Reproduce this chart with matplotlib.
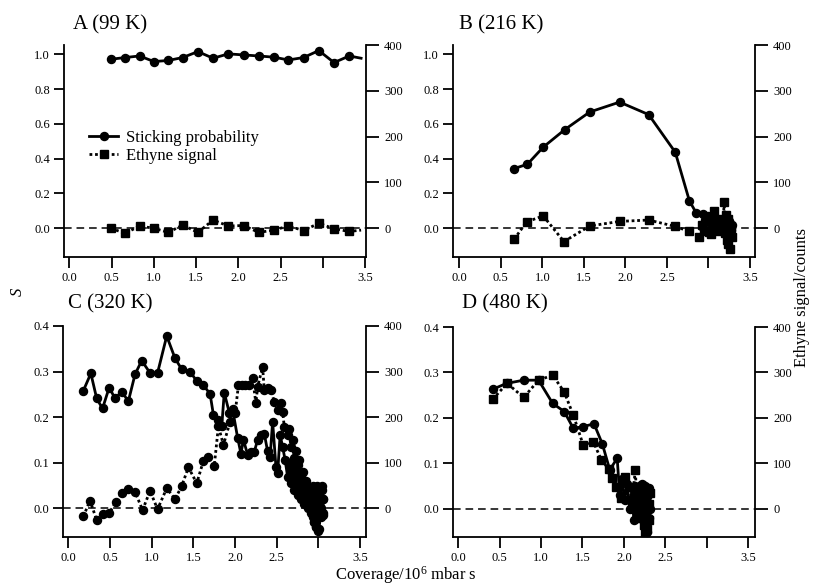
import matplotlib
matplotlib.use("Agg")
import matplotlib.pyplot as plt

plt.rcParams['font.family'] = ['Liberation Serif', 'DejaVu Serif']
plt.rcParams['mathtext.fontset'] = 'custom'
plt.rcParams['mathtext.rm'] = 'Liberation Serif'
plt.rcParams['mathtext.it'] = 'Liberation Serif:italic'

# ---------------- data ----------------
panel_titles = ["A (99 K)", "B (216 K)", "C (320 K)", "D (480 K)"]
x_ticks = [0.0, 0.5, 1.0, 1.5, 2.0, 2.5, 3.0, 3.5]
x_ticklabels = ["0.0", "0.5", "1.0", "1.5", "2.0", "2.5", "", "3.5"]
right_ticks = [0, 100, 200, 300, 400]
left_ticks_top = [0.0, 0.2, 0.4, 0.6, 0.8, 1.0]
left_ticks_bottom = [0.0, 0.1, 0.2, 0.3, 0.4]

# Panel A (99 K)
xA = [0.49, 0.66, 0.83, 1.00, 1.17, 1.34, 1.52, 1.70, 1.88, 2.06, 2.24, 2.42,
      2.59, 2.77, 2.95, 3.13, 3.31, 3.45]
sA = [0.971, 0.981, 0.990, 0.958, 0.964, 0.981, 1.015, 0.977, 1.002, 0.996,
      0.990, 0.983, 0.967, 0.981, 1.021, 0.952, 0.990, 0.977]
eA = [0, -11, 5, 0, -9, 7, -9, 18, 5, 6, -9, -4, 5, -5, 11, -1, -7, -4]

# Panel B (216 K)
xB_s = [0.66, 0.82, 1.01, 1.27, 1.57, 1.93, 2.28, 2.60, 2.77, 2.85, 2.93, 2.96,
        2.99, 3.02, 3.05, 3.08, 3.11, 3.14, 3.17, 3.19, 3.21, 3.23, 3.25, 3.27, 3.28]
sB = [0.343, 0.368, 0.466, 0.567, 0.668, 0.725, 0.653, 0.437, 0.158, 0.090,
      0.084, 0.05, 0.07, 0.03, 0.055, 0.02, 0.045, 0.01, 0.05, 0.02, 0.06, 0.0,
      0.04, -0.01, 0.02]
xB_e = [0.66, 0.81, 1.01, 1.26, 1.57, 1.93, 2.28, 2.60, 2.77, 2.89, 2.92, 2.95,
        2.98, 3.01, 3.03, 3.07, 3.09, 3.11, 3.13, 3.15, 3.17, 3.19, 3.20, 3.21,
        3.22, 3.23, 3.24, 3.25, 3.26, 3.27, 3.28]
eB = [-24, 14, 27, -29, 5, 15, 18, 4, -7, -20, 8, -5, 15, -8, -13, 38, 5, 20,
      -5, 15, 0, 57, -10, 30, -25, 20, -35, 10, -46, 0, -20]

# Panel C (320 K)
xC_s = [0.18, 0.27, 0.34, 0.41, 0.49, 0.56, 0.64, 0.72, 0.80, 0.88,
        0.98, 1.07, 1.18, 1.28, 1.36, 1.46, 1.54, 1.62, 1.70, 1.74,
        1.80, 1.84, 1.87, 1.93, 1.97, 2.03, 2.07, 2.10, 2.15, 2.19,
        2.23, 2.27, 2.31, 2.35, 2.39, 2.42, 2.45, 2.49, 2.51, 2.54,
        2.57, 2.60, 2.63, 2.65, 2.67, 2.69, 2.71, 2.73, 2.75, 2.77,
        2.79, 2.81, 2.83, 2.85, 2.87, 2.89, 2.91, 2.92, 2.93, 2.94,
        2.95, 2.96, 2.97, 2.98, 2.99, 3.00, 3.01, 3.02, 3.03, 3.04,
        3.05, 3.06]
sC = [0.258, 0.296, 0.241, 0.219, 0.265, 0.241, 0.256, 0.235, 0.294, 0.324,
      0.297, 0.297, 0.378, 0.329, 0.305, 0.300, 0.279, 0.270, 0.251, 0.205,
      0.194, 0.180, 0.254, 0.210, 0.217, 0.155, 0.120, 0.150, 0.118, 0.124,
      0.124, 0.150, 0.161, 0.164, 0.125, 0.113, 0.190, 0.091, 0.077, 0.161,
      0.135, 0.106, 0.069, 0.10, 0.055, 0.09, 0.04, 0.08, 0.03, 0.065,
      0.02, 0.055, 0.01, 0.05, 0.0, 0.045, -0.01, 0.04, -0.02, 0.05,
      -0.03, 0.035, -0.04, 0.05, -0.045, 0.03, -0.02, 0.045, 0.0, 0.04,
      -0.01, 0.02]
xC_e = [0.18, 0.26, 0.34, 0.41, 0.49, 0.57, 0.64, 0.72, 0.80, 0.89,
        0.98, 1.07, 1.18, 1.28, 1.36, 1.44, 1.54, 1.62, 1.68, 1.75,
        1.80, 1.86, 1.94, 2.00, 2.04, 2.08, 2.12, 2.17, 2.21, 2.25,
        2.27, 2.33, 2.35, 2.40, 2.43, 2.47, 2.51, 2.55, 2.57, 2.59,
        2.63, 2.65, 2.67, 2.69, 2.71, 2.73, 2.75, 2.77, 2.79, 2.81,
        2.83, 2.85, 2.87, 2.89, 2.90, 2.92, 2.93, 2.94, 2.95, 2.96,
        2.97, 2.98, 2.99, 3.00, 3.01, 3.02, 3.03, 3.04, 3.05, 3.06]
eC = [-18, 17, -26, -13, -10, 13, 33, 42, 36, -4,
      38, -2, 44, 20, 49, 90, 55, 104, 113, 93,
      180, 139, 190, 208, 270, 270, 270, 270, 285, 230,
      267, 310, 260, 265, 259, 234, 216, 231, 212, 179,
      161, 175, 135, 150, 110, 125, 95, 105, 70, 80,
      45, 60, 25, 40, 5, 30, -10, 20, -30, 35,
      -40, 15, -50, 5, -45, 25, -20, 50, -15, 20]

# Panel D (480 K)
xD_s = [0.415, 0.585, 0.79, 0.97, 1.14, 1.28, 1.39, 1.51, 1.64, 1.74,
        1.83, 1.92, 1.95, 1.98, 2.01, 2.04, 2.07, 2.10, 2.12, 2.14,
        2.16, 2.18, 2.20, 2.22, 2.24, 2.25, 2.26, 2.27, 2.28, 2.29,
        2.30, 2.31, 2.32]
sD = [0.263, 0.276, 0.283, 0.283, 0.232, 0.214, 0.177, 0.181, 0.187, 0.143,
      0.086, 0.111, 0.030, 0.065, 0.02, 0.055, 0.0, 0.045, -0.024, 0.05,
      0.0, 0.04, -0.01, 0.055, -0.03, 0.05, -0.04, 0.04, -0.05, 0.03,
      -0.02, 0.045, 0.0]
xD_e = [0.415, 0.59, 0.79, 0.97, 1.14, 1.28, 1.39, 1.51, 1.63, 1.73,
        1.82, 1.86, 1.91, 1.96, 2.01, 2.06, 2.10, 2.14, 2.16, 2.18,
        2.20, 2.22, 2.24, 2.25, 2.26, 2.27, 2.28, 2.29, 2.30, 2.31, 2.32]
eD = [241, 276, 245, 283, 294, 257, 206, 140, 148, 107,
      87, 67, 48, 23, 71, 49, 20, 86, -10, 40,
      -20, 50, -35, 30, -50, 20, -45, 40, -25, 10, 35]

# ---------------- figure ----------------
W, H = 816, 587
fig = plt.figure(figsize=(W / 100, H / 100), dpi=100)


def rect(left, top, right, bottom):
    return [left / W, 1 - bottom / H, (right - left) / W, (bottom - top) / H]


LW_SOLID = 2.0
LW_DOT = 2.0
MS = 5.8
TICK_FS = 9


def make_panel(r, xlim, ylim_left, left_ticks, left_fmt, ylim_right):
    ax = fig.add_axes(r)
    ax2 = ax.twinx()
    ax.set_xlim(*xlim)
    ax.set_ylim(*ylim_left)
    ax2.set_ylim(*ylim_right)
    for s in ['top', 'right']:
        ax.spines[s].set_visible(False)
    for s in ['top', 'left', 'bottom']:
        ax2.spines[s].set_visible(False)
    for sp in [ax.spines['left'], ax.spines['bottom'], ax2.spines['right']]:
        sp.set_linewidth(1.3)
    ax.set_xticks(x_ticks)
    ax.set_xticklabels(x_ticklabels)
    ax.set_yticks(left_ticks)
    ax.set_yticklabels([left_fmt.format(v) for v in left_ticks])
    ax2.set_yticks(right_ticks)
    ax2.set_yticklabels([str(v) for v in right_ticks])
    ax.tick_params(axis='y', direction='out', length=7, width=1.3, pad=3,
                   labelsize=TICK_FS)
    ax.tick_params(axis='x', direction='out', length=8, width=1.3, pad=3,
                   labelsize=TICK_FS)
    ax2.tick_params(axis='y', direction='out', length=9, width=1.3, pad=4,
                    labelsize=TICK_FS)
    ax.axhline(0, color='black', lw=1.1, dashes=(5, 3.2), zorder=1)
    ax.set_zorder(ax2.get_zorder() + 1)
    ax.patch.set_visible(False)
    return ax, ax2


# Panel A
rA = rect(64, 45, 366, 257)
axA, axA2 = make_panel(rA, (-0.063, 3.508), (-0.165, 1.053), left_ticks_top,
                       "{:.1f}", (-0.165 * 400 / 1.053, 400))
lA, = axA.plot(xA, sA, '-', color='black', lw=LW_SOLID, marker='o', ms=MS,
               markevery=list(range(len(xA) - 1)), label='Sticking probability')
lA2, = axA2.plot(xA, eA, color='black', lw=LW_DOT, ls=(0, (1, 1)), marker='s',
                 ms=MS, markevery=list(range(len(xA) - 1)), label='Ethyne signal')
leg = fig.legend([lA, lA2], ['Sticking probability', 'Ethyne signal'],
                 loc='upper left', bbox_to_anchor=(89 / W, 1 - 130 / H),
                 frameon=False, fontsize=12, handlelength=1.75,
                 handletextpad=0.45, labelspacing=0.12, borderpad=0,
                 borderaxespad=0)

# Panel B
rB = rect(453, 45, 755, 257)
axB, axB2 = make_panel(rB, (-0.076, 3.56), (-0.165, 1.053), left_ticks_top,
                       "{:.1f}", (-0.165 * 400 / 1.053, 400))
axB.plot(xB_s, sB, '-', color='black', lw=LW_SOLID, marker='o', ms=MS)
axB2.plot(xB_e, eB, color='black', lw=LW_DOT, ls=(0, (1, 1)), marker='s', ms=MS)

# Panel C
rC = rect(63, 326, 366, 537)
axC, axC2 = make_panel(rC, (-0.064, 3.57), (-0.063, 0.4), left_ticks_bottom,
                       "{:.1f}", (-63, 400))
axC.plot(xC_s, sC, '-', color='black', lw=LW_SOLID, marker='o', ms=MS)
axC2.plot(xC_e, eC, color='black', lw=LW_DOT, ls=(0, (1, 1)), marker='o', ms=MS)

# Panel D
rD = rect(453, 327, 755, 537)
axD, axD2 = make_panel(rD, (-0.064, 3.585), (-0.062, 0.4), left_ticks_bottom,
                       "{:.1f}", (-62, 400))
axD.plot(xD_s, sD, '-', color='black', lw=LW_SOLID, marker='o', ms=MS)
axD2.plot(xD_e, eD, color='black', lw=LW_DOT, ls=(0, (1, 1)), marker='s', ms=MS)

# Titles
title_pos = [(73, 25), (459, 25), (68, 304), (462, 304)]
for t, (px, py) in zip(panel_titles, title_pos):
    fig.text(px / W, 1 - py / H, t, ha='left', va='center', fontsize=15)

# Axis labels
fig.text(18 / W, 1 - 292 / H, "S", rotation=90, ha='center', va='center',
         fontsize=12, style='italic')
fig.text(802 / W, 1 - 298 / H, "Ethyne signal/counts", rotation=90,
         ha='center', va='center', fontsize=12)
fig.text(406 / W, 1 / H, "Coverage/10$^{6}$ mbar s", ha='center',
         va='bottom', fontsize=12)

fig.savefig("out.png", dpi=100)
